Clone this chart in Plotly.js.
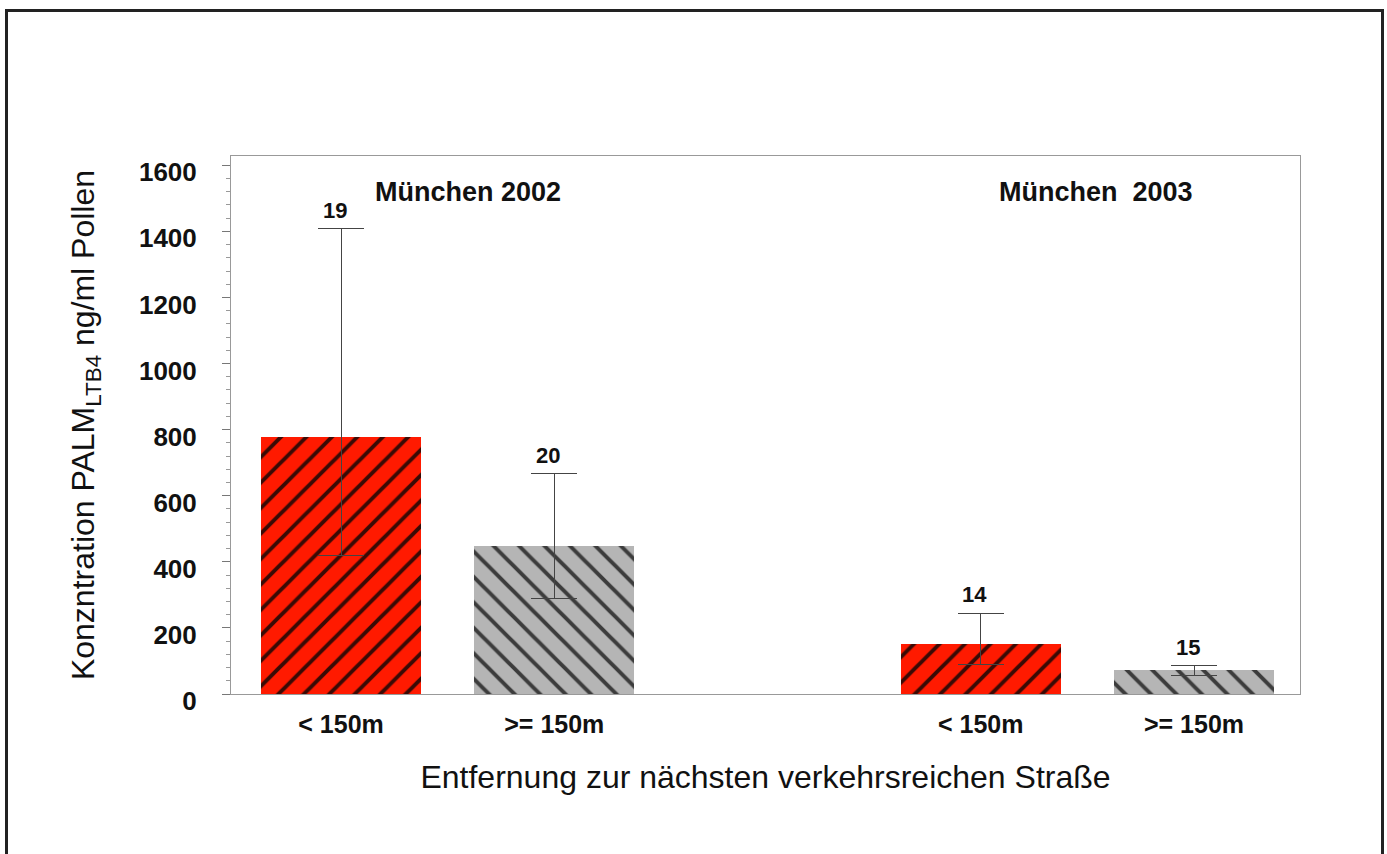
<!DOCTYPE html>
<html>
<head>
<meta charset="utf-8">
<script src="https://cdn.plot.ly/plotly-3.0.1.min.js"></script>
<style>
  html, body { margin: 0; padding: 0; background: #fff; }
  #wrap { position: relative; width: 1387px; height: 854px; }
  #chart { position: absolute; left: 0; top: 0; width: 1387px; height: 854px; }
  #frame { position: absolute; left: 5px; top: 9px; width: 1379px; height: 860px;
           border: 3px solid #222; pointer-events: none; box-sizing: border-box; }
</style>
</head>
<body>
<div id="wrap">
  <div id="chart"></div>
  <div id="frame"></div>
</div>
<script>
// ---- data ----
const groups = ["München 2002", "München  2003"];
const categories = ["< 150m", ">= 150m"];
// mean concentration (ng/ml pollen) per group, per distance category
const values2002 = [778, 448];
const values2003 = [151, 73];
// upper / lower ends of the error bars
const upper2002 = [1408, 666];
const lower2002 = [420, 288];
const upper2003 = [244, 85];
const lower2003 = [90, 55];
// sample sizes printed above the bars
const n2002 = [19, 20];
const n2003 = [14, 15];

const values = [values2002, values2003];
const uppers = [upper2002, upper2003];
const lowers = [lower2002, lower2003];
const ns = [n2002, n2003];

const font = "Liberation Sans, Arial, sans-serif";
const styles = [
  { bg: "#ff1a00", fg: "#3a0a05", shape: "/" },
  { bg: "#b5b5b5", fg: "#3c3c3c", shape: "\\" }
];

const traces = [];
const tickvals = [], ticktext = [];
const annotations = [];
categories.forEach((cat, ci) => {
  const xs = [], ys = [], up = [], dn = [];
  groups.forEach((g, gi) => {
    const x = gi * 3 + ci;
    xs.push(x);
    ys.push(values[gi][ci]);
    up.push(uppers[gi][ci] - values[gi][ci]);
    dn.push(values[gi][ci] - lowers[gi][ci]);
    tickvals.push(x); ticktext.push(cat);
    annotations.push({
      x: x - 0.03, y: uppers[gi][ci], xref: "x", yref: "y",
      text: String(ns[gi][ci]), showarrow: false, yanchor: "bottom", yshift: 4,
      font: { family: font, size: 22, color: "#111", weight: "bold" }
    });
  });
  traces.push({
    type: "bar", x: xs, y: ys, width: 0.75, name: cat,
    marker: {
      color: styles[ci].bg,
      line: { width: 0 },
      pattern: { shape: styles[ci].shape, fgcolor: styles[ci].fg, bgcolor: styles[ci].bg,
                 size: 18, solidity: 0.22, fillmode: "replace" }
    },
    error_y: { type: "data", symmetric: false, array: up, arrayminus: dn,
               color: "#444", thickness: 1, width: 23 },
    hoverinfo: "skip"
  });
});

// group labels
annotations.push({
  x: 0.15, y: 1520, xref: "x", yref: "y", text: groups[0], showarrow: false,
  xanchor: "left", font: { family: font, size: 27, color: "#111", weight: "bold" }
});
annotations.push({
  x: 3.076, y: 1520, xref: "x", yref: "y", text: groups[1].replace("  ", "&nbsp;&nbsp;"), showarrow: false,
  xanchor: "left", font: { family: font, size: 27, color: "#111", weight: "bold" }
});

const layout = {
  width: 1387, height: 854,
  margin: { l: 231, r: 87, t: 156, b: 160 },
  paper_bgcolor: "#fff", plot_bgcolor: "#fff",
  showlegend: false,
  bargap: 0,
  xaxis: {
    range: [-0.516, 4.497], tickvals: tickvals, ticktext: ticktext,
    showgrid: false, zeroline: false, showline: true, mirror: true,
    linecolor: "#999", linewidth: 1, ticks: "",
    ticklabelstandoff: 8,
    tickfont: { family: font, size: 25, color: "#111", weight: "bold" },
    title: { text: "Entfernung zur nächsten verkehrsreichen Straße", standoff: 28,
             font: { family: font, size: 32, color: "#111" } }
  },
  yaxis: {
    range: [0, 1628], dtick: 200, tick0: 0,
    showgrid: false, zeroline: false, showline: true, mirror: true,
    linecolor: "#999", linewidth: 1,
    ticks: "outside", ticklen: 8, tickcolor: "#777", tickwidth: 1,
    minor: { dtick: 40, ticks: "outside", ticklen: 4, tickcolor: "#999" },
    ticklabelstandoff: 20, ticklabelshift: 7,
    tickfont: { family: font, size: 26, color: "#111", weight: "bold" },
    title: { text: "Konzntration PALM<sub>LTB4</sub> ng/ml Pollen", standoff: 34,
             font: { family: font, size: 32, color: "#111" } }
  },
  annotations: annotations
};

Plotly.newPlot("chart", traces, layout, { displayModeBar: false, staticPlot: true });
</script>
</body>
</html>
